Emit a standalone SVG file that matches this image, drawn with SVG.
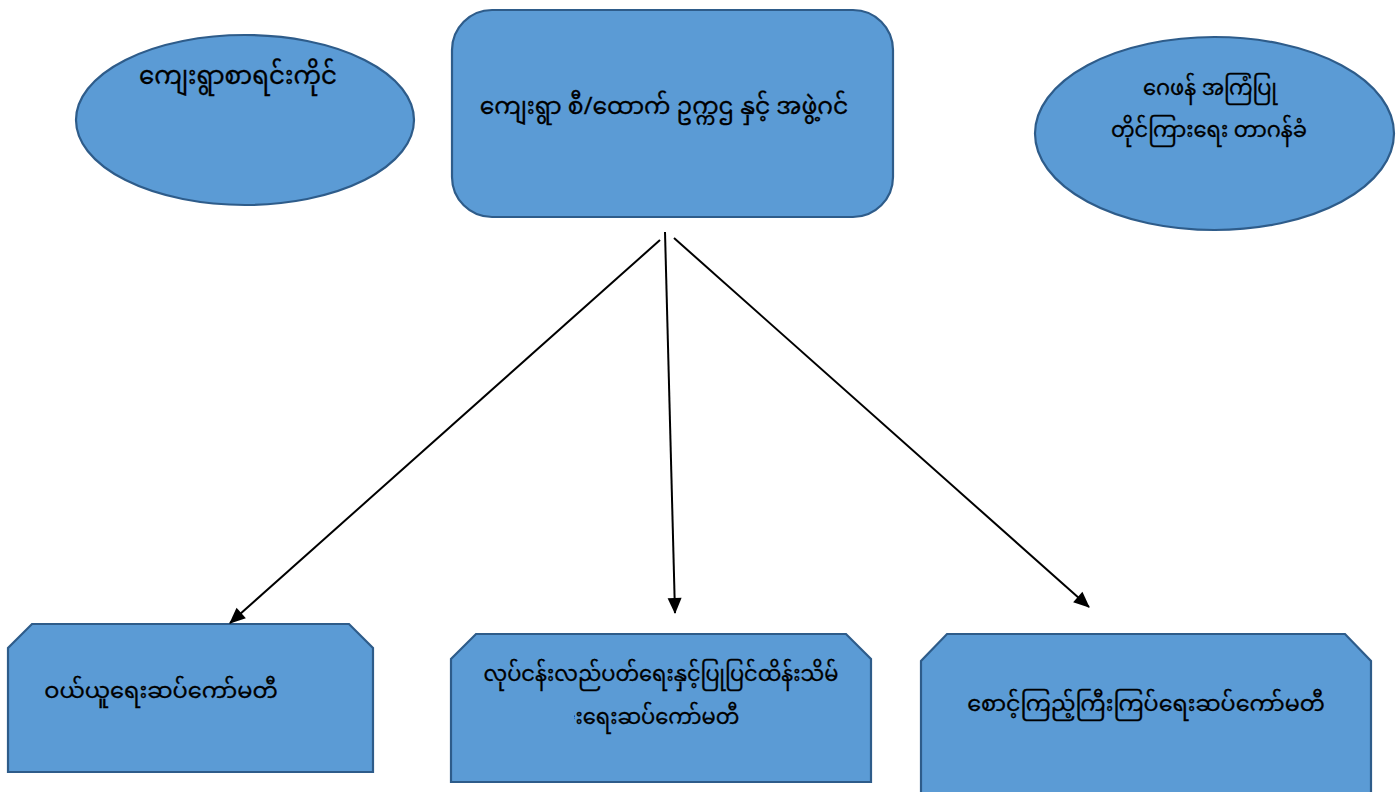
<svg xmlns="http://www.w3.org/2000/svg" width="1399" height="792" viewBox="0 0 1399 792">
<defs>
<style>
.shape{fill:#5B9BD5;stroke:#2E5C8A;stroke-width:2.2}
.lbl{font-family:"Noto Sans Myanmar","Padauk","Myanmar Text","Noto Sans",sans-serif;font-size:23.5px;fill:#000;stroke:#000;stroke-width:0.3;text-anchor:middle}
.conn{stroke:#000;stroke-width:2;fill:none;marker-end:url(#arr)}
</style>
<marker id="arr" viewBox="0 0 16 14" refX="15" refY="7" markerWidth="16" markerHeight="14" markerUnits="userSpaceOnUse" orient="auto" style="overflow:visible">
<path d="M0,0 L16,7 L0,14 z" fill="#000"/>
</marker>
<clipPath id="cutLead">
<rect x="574" y="690" width="300" height="60"/>
</clipPath>
</defs>
<rect width="1399" height="792" fill="#fff"/>
<g id="node-clerk">
<ellipse class="shape" cx="245" cy="120" rx="169" ry="85"/>
<text class="lbl" x="238" y="84" style="font-size:24.5px">ကျေးရွာစာရင်းကိုင်</text>
</g>
<g id="node-chair">
<rect class="shape" x="452" y="10" width="441" height="207" rx="40" ry="40"/>
<text class="lbl" x="664" y="114">ကျေးရွာ စီ/ထောက် ဥက္ကဌ နှင့် အဖွဲ့ဂင်</text>
</g>
<g id="node-feedback">
<ellipse class="shape" cx="1214.5" cy="133.5" rx="179.5" ry="96.5"/>
<text class="lbl" x="1210" y="95" style="font-size:21px">ဂေဖန် အကြံပြု</text>
<text class="lbl" x="1209" y="137" style="font-size:21px">တိုင်ကြားရေး တာဂန်ခံ</text>
</g>
<g id="node-purchase">
<path class="shape" d="M32,624 L349,624 L373,648 L373,772 L8,772 L8,648 Z"/>
<text class="lbl" x="161" y="698" style="font-size:22.5px">ဝယ်ယူရေးဆပ်ကော်မတီ</text>
</g>
<g id="node-operation">
<path class="shape" d="M476,634 L846,634 L871,659 L871,782 L451,782 L451,659 Z"/>
<text class="lbl" x="661" y="681" style="font-size:21px">လုပ်ငန်းလည်ပတ်ရေးနှင့်ပြုပြင်ထိန်းသိမ်</text>
<text class="lbl" x="563" y="724" style="font-size:21px;text-anchor:start" clip-path="url(#cutLead)">&#x1038;ရေးဆပ်ကော်မတီ</text>
</g>
<g id="node-monitor">
<path class="shape" d="M947,634 L1345,634 L1371,661 L1371,800 L921,800 L921,661 Z"/>
<text class="lbl" x="1146" y="711" style="font-size:22.3px">စောင့်ကြည့်ကြီးကြပ်ရေးဆပ်ကော်မတီ</text>
</g>
<g id="connectors">
<line class="conn" x1="660" y1="240" x2="230" y2="623"/>
<line class="conn" x1="665" y1="232" x2="675" y2="613"/>
<line class="conn" x1="674" y1="238" x2="1089" y2="607"/>
</g>
</svg>
